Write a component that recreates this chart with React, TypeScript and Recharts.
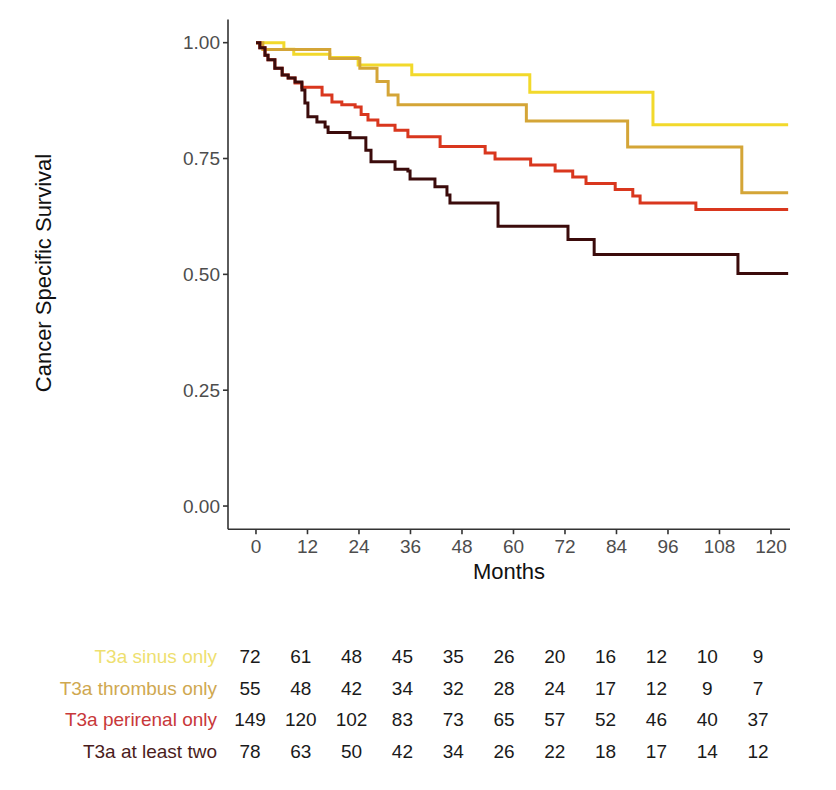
import React from 'react';
import { LineChart, Line, XAxis, YAxis, ComposedChart, Scatter, Label } from 'recharts';

const monthTicks = [0, 12, 24, 36, 48, 60, 72, 84, 96, 108, 120];
const survTicks = [0, 0.25, 0.5, 0.75, 1];
const groups = ['T3a sinus only', 'T3a thrombus only', 'T3a perirenal only', 'T3a at least two'];
const groupColors = ['#F2D92B', '#D4A537', '#D9371E', '#3B0B0B'];
const labelColors = ['#EEDF70', '#CFA850', '#C8383A', '#4A1C1C'];

const sinusTimes = [0, 6.5, 8.8, 17.2, 23.8, 36.3, 63.8, 92.5, 124];
const sinusSurv = [1, 0.986, 0.975, 0.968, 0.952, 0.931, 0.893, 0.823, 0.823];

const thrombusTimes = [0, 1.6, 17.2, 24.2, 28.2, 30.8, 33.1, 63.0, 86.6, 113.2, 124];
const thrombusSurv = [1, 0.985, 0.966, 0.945, 0.916, 0.887, 0.866, 0.831, 0.775, 0.676, 0.676];

const perirenalTimes = [0, 0.9, 2.1, 2.8, 4.4, 6.1, 7.5, 9.1, 10.7, 15.4, 17.7, 20.0, 23.1, 24.5, 26.1, 28.4, 32.4, 35.4, 42.9, 53.4, 55.7, 64.0, 69.7, 73.8, 76.9, 83.7, 87.8, 89.5, 102.5, 124];
const perirenalSurv = [1, 0.989, 0.973, 0.963, 0.945, 0.93, 0.924, 0.913, 0.904, 0.887, 0.872, 0.866, 0.861, 0.845, 0.833, 0.822, 0.811, 0.797, 0.776, 0.762, 0.749, 0.736, 0.723, 0.71, 0.696, 0.683, 0.669, 0.654, 0.64, 0.64];

const twoTimes = [0, 0.9, 2.1, 2.8, 4.4, 6.1, 7.5, 9.1, 10.7, 11.4, 12.1, 14.2, 16.1, 16.8, 21.9, 25.6, 26.8, 32.4, 35.4, 35.9, 41.7, 44.5, 45.2, 56.4, 72.7, 78.8, 112.3, 124];
const twoSurv = [1, 0.989, 0.973, 0.963, 0.945, 0.93, 0.924, 0.915, 0.898, 0.87, 0.84, 0.829, 0.818, 0.806, 0.795, 0.768, 0.743, 0.727, 0.723, 0.706, 0.689, 0.671, 0.654, 0.604, 0.575, 0.543, 0.502, 0.502];

const riskSinus = [72, 61, 48, 45, 35, 26, 20, 16, 12, 10, 9];
const riskThrombus = [55, 48, 42, 34, 32, 28, 24, 17, 12, 9, 7];
const riskPerirenal = [149, 120, 102, 83, 73, 65, 57, 52, 46, 40, 37];
const riskTwo = [78, 63, 50, 42, 34, 26, 22, 18, 17, 14, 12];

const toSeries = (times: number[], surv: number[]) => times.map((t, i) => ({ t, s: surv[i] }));
const curves = [
  toSeries(sinusTimes, sinusSurv),
  toSeries(thrombusTimes, thrombusSurv),
  toSeries(perirenalTimes, perirenalSurv),
  toSeries(twoTimes, twoSurv),
];
const riskRows = [riskSinus, riskThrombus, riskPerirenal, riskTwo].map((arr, r) =>
  monthTicks.map((t, i) => ({ t, row: r, n: arr[i] }))
);

const FONT = '"Liberation Sans", Arial, Helvetica, sans-serif';
const axisColor = '#333333';
const tickColor = '#4D4D4D';

const YTitle = () => (
  <text x={43} y={273} transform="rotate(-90, 43, 273)" textAnchor="middle" dominantBaseline="central" fontSize={22} fill="#111" fontFamily={FONT}>
    Cancer Specific Survival
  </text>
);

const RowTick = (props: any) => {
  const { x, y, payload } = props;
  const idx = payload.value as number;
  return (
    <text x={x} y={y} textAnchor="end" dominantBaseline="central" fontSize={19} fill={labelColors[idx]} fontFamily={FONT}>
      {groups[idx]}
    </text>
  );
};

const CountShape = (props: any) => {
  const { cx, cy, payload } = props;
  return (
    <text x={cx} y={cy} textAnchor="middle" dominantBaseline="central" fontSize={19} fill="#1a1a1a" fontFamily={FONT}>
      {payload.n}
    </text>
  );
};

export default function App() {
  return (
    <div style={{ position: 'absolute', left: 0, top: 0, width: 836, height: 790, background: '#fff', fontFamily: FONT }}>
      <div style={{ position: 'absolute', left: 0, top: 0 }}>
        <LineChart width={836} height={600} margin={{ top: 19.5, right: 46, bottom: 40.8, left: 168 }}>
          <XAxis
            type="number"
            dataKey="t"
            domain={[-6.52, 124.43]}
            ticks={monthTicks}
            allowDataOverflow
            height={30}
            tickSize={5}
            tickMargin={5}
            stroke={axisColor}
            strokeWidth={1.6}
            tick={{ fontSize: 19, fill: tickColor, fontFamily: FONT }}
          >
            <Label value="Months" position="bottom" offset={4} fontSize={22} fill="#111" fontFamily={FONT} />
          </XAxis>
          <YAxis
            type="number"
            domain={[-0.05, 1.05]}
            ticks={survTicks}
            allowDataOverflow
            width={60}
            tickSize={5}
            tickMargin={3}
            stroke={axisColor}
            strokeWidth={1.6}
            tickFormatter={(v: number) => v.toFixed(2)}
            tick={{ fontSize: 19, fill: tickColor, fontFamily: FONT }}
            label={<Label content={<YTitle />} />}
          />
          {curves.map((d, i) => (
            <Line
              key={groups[i]}
              data={d}
              dataKey="s"
              type="stepAfter"
              stroke={groupColors[i]}
              strokeWidth={3}
              dot={false}
              isAnimationActive={false}
            />
          ))}
        </LineChart>
      </div>
      <div style={{ position: 'absolute', left: 0, top: 630 }}>
        <ComposedChart width={836} height={150} margin={{ top: 11.25, right: 46, bottom: 13.25, left: 0 }}>
          <XAxis type="number" dataKey="t" domain={[-5.197, 127.56]} hide allowDataOverflow />
          <YAxis
            type="number"
            dataKey="row"
            domain={[-0.5, 3.5]}
            ticks={[0, 1, 2, 3]}
            reversed
            width={228}
            tickSize={0}
            tickMargin={11}
            axisLine={false}
            tickLine={false}
            tick={<RowTick />}
          />
          {riskRows.map((d, i) => (
            <Scatter key={groups[i]} data={d} dataKey="row" shape={<CountShape />} isAnimationActive={false} />
          ))}
        </ComposedChart>
      </div>
    </div>
  );
}
